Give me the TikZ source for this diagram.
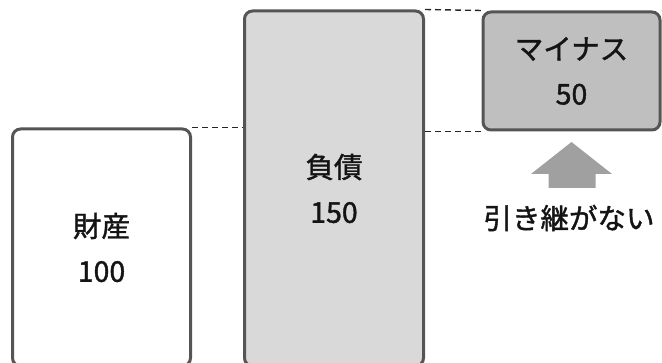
\documentclass[tikz,border=0pt]{standalone}
\usepackage{fontspec}
\setmainfont[FakeBold=1.4]{Noto Sans CJK JP}
\usetikzlibrary{positioning,calc}
\definecolor{boxline}{RGB}{85,85,85}
\definecolor{debtfill}{RGB}{217,217,217}
\definecolor{minusfill}{RGB}{191,191,191}
\definecolor{arrowgray}{RGB}{160,160,160}
\definecolor{textdark}{RGB}{20,20,20}

\begin{document}
\begin{tikzpicture}[x=1pt, y=-1pt,
  box/.style={draw=boxline, line width=3pt, rounded corners=8pt,
              inner sep=0pt, align=center, text=textdark,
              font=\fontsize{28.5}{45}\selectfont},
  guide/.style={draw=black!85, line width=1.4pt, dash pattern=on 6pt off 4pt}]

\useasboundingbox (0,0) rectangle (662,363);
\clip (0,0) rectangle (662,363);

\node[box, fill=white, minimum width=178, minimum height=237]
  (asset) at (101.5,247.5) {財産\\100};
\node[box, fill=debtfill, minimum width=179, minimum height=355]
  (debt) at (334,188.5) {負債\\150};
\node[box, fill=minusfill, minimum width=177, minimum height=118]
  (minus) at (571.5,71) {マイナス\\50};

\draw[guide] (asset.north east) -- (asset.north east -| debt.west);
\draw[guide] (debt.north east) -- (minus.north west);
\draw[guide] (debt.east |- minus.south) -- (minus.south west);

% block arrow under the minus box
\coordinate (tip) at (571.5,142);
\fill[arrowgray] (tip) -- ++(40.5,32) -- ++(-16.5,0) -- ++(0,14)
  -- ++(-47,0) -- ++(0,-14) -- ++(-17.5,0) -- cycle;

\node[text=textdark, font=\fontsize{28.5}{30}\selectfont, inner sep=0pt]
  (nocarry) at (569,218) {引き継がない};
\end{tikzpicture}
\end{document}
